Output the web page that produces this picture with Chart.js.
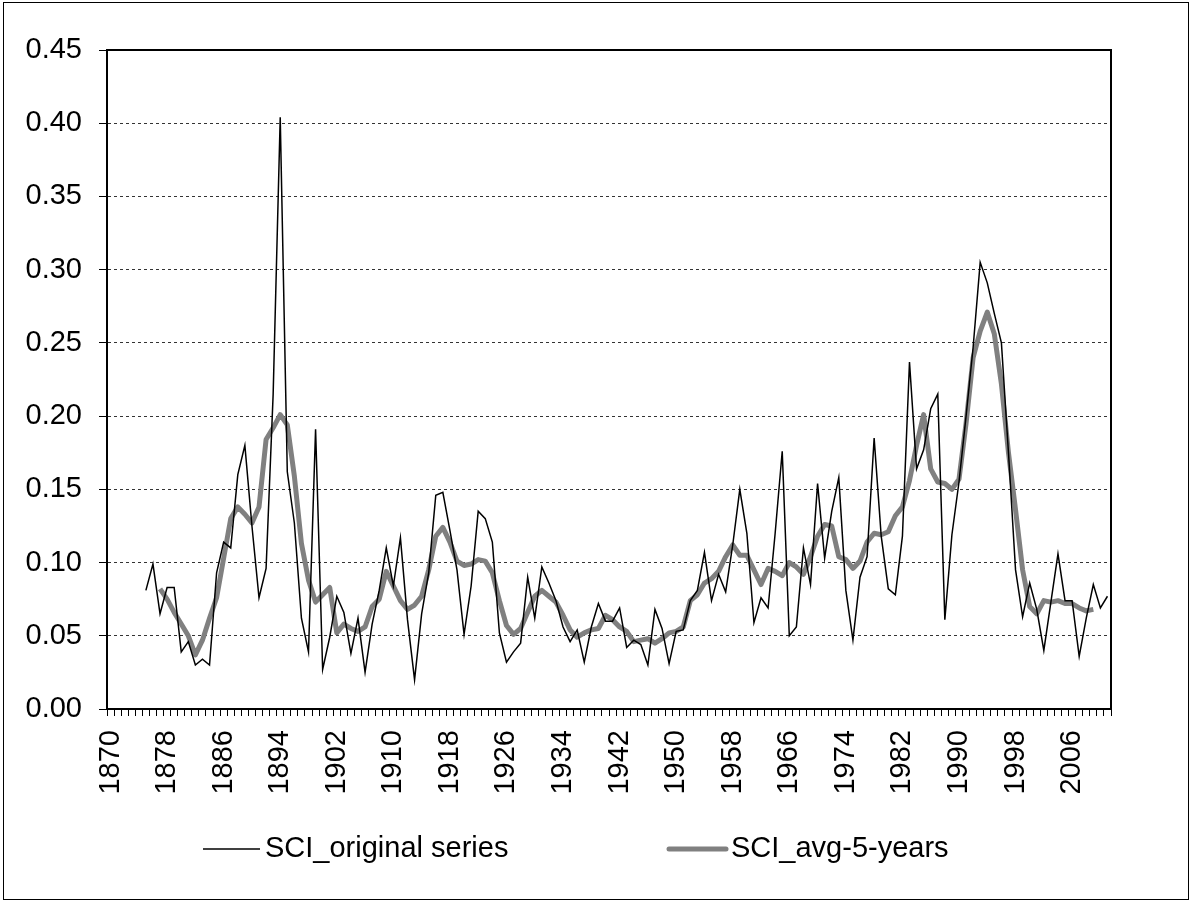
<!DOCTYPE html>
<html lang="en">
<head>
    <meta charset="UTF-8">
    <title>SCI</title>
    <style>
        body {margin: 0; background: #fff;}
        .chart-wrap {width: 1194px; height: 907px;}
    </style>
</head>
<body>
    <div class="chart-wrap">
        <canvas id="myChart"></canvas>
    </div>
    <script src="https://cdn.jsdelivr.net/npm/chart.js@4.4.0/dist/chart.umd.min.js"></script>
    <script>
        // categories: one per year
        const firstYear = 1870;
        const lastYear = 2011;
        const years = [];
        for (let y = firstYear; y <= lastYear; y++) years.push(y);

        // labelled years on the x axis
        const tickYears = [1870, 1878, 1886, 1894, 1902, 1910, 1918, 1926, 1934, 1942, 1950, 1958, 1966, 1974, 1982, 1990, 1998, 2006];

        // SCI original series, 1875 - 2011
        const origStart = 1875;
        const sciOriginal = [
            0.081, 0.099, 0.065, 0.083, 0.083, 0.039, 0.046, 0.030, 0.034, 0.030,
            0.093, 0.114, 0.110, 0.160, 0.180, 0.125, 0.076, 0.096, 0.215, 0.404,
            0.162, 0.127, 0.062, 0.039, 0.191, 0.027, 0.049, 0.077, 0.066, 0.038,
            0.062, 0.025, 0.058, 0.081, 0.110, 0.084, 0.117, 0.061, 0.020, 0.065,
            0.093, 0.146, 0.148, 0.122, 0.095, 0.051, 0.084, 0.135, 0.130, 0.114,
            0.052, 0.032, 0.039, 0.045, 0.090, 0.062, 0.097, 0.086, 0.074, 0.056,
            0.046, 0.054, 0.032, 0.056, 0.072, 0.060, 0.060, 0.069, 0.042, 0.047,
            0.044, 0.030, 0.068, 0.055, 0.031, 0.053, 0.054, 0.074, 0.081, 0.107,
            0.074, 0.092, 0.080, 0.112, 0.150, 0.120, 0.059, 0.076, 0.069, 0.120,
            0.176, 0.050, 0.056, 0.110, 0.085, 0.154, 0.103, 0.135, 0.158, 0.081,
            0.047, 0.090, 0.104, 0.185, 0.118, 0.082, 0.078, 0.118, 0.237, 0.164,
            0.177, 0.205, 0.215, 0.061, 0.119, 0.155, 0.200, 0.247, 0.305, 0.291,
            0.270, 0.250, 0.175, 0.095, 0.063, 0.086, 0.068, 0.040, 0.073, 0.106,
            0.074, 0.074, 0.036, 0.062, 0.085, 0.069, 0.077
        ];

        // SCI 5-year average, 1877 - 2009
        const avgStart = 1877;
        const sciAvg5 = [
            0.082, 0.075, 0.066, 0.058, 0.050, 0.037, 0.047, 0.062, 0.076, 0.103,
            0.130, 0.138, 0.133, 0.127, 0.138, 0.184, 0.192, 0.201, 0.194, 0.159,
            0.113, 0.088, 0.073, 0.078, 0.083, 0.052, 0.058, 0.055, 0.053, 0.056,
            0.070, 0.075, 0.094, 0.084, 0.074, 0.068, 0.071, 0.077, 0.095, 0.118,
            0.124, 0.114, 0.101, 0.098, 0.099, 0.102, 0.101, 0.093, 0.074, 0.057,
            0.051, 0.055, 0.066, 0.077, 0.081, 0.077, 0.073, 0.064, 0.054, 0.049,
            0.052, 0.054, 0.055, 0.064, 0.061, 0.056, 0.053, 0.046, 0.047, 0.048,
            0.045, 0.048, 0.052, 0.053, 0.056, 0.074, 0.078, 0.086, 0.089, 0.094,
            0.104, 0.112, 0.105, 0.105, 0.095, 0.085, 0.096, 0.094, 0.091, 0.100,
            0.097, 0.092, 0.104, 0.118, 0.126, 0.125, 0.104, 0.102, 0.096, 0.101,
            0.114, 0.120, 0.119, 0.121, 0.132, 0.138, 0.156, 0.180, 0.201, 0.164,
            0.155, 0.154, 0.150, 0.157, 0.195, 0.240, 0.258, 0.271, 0.256, 0.222,
            0.175, 0.136, 0.095, 0.070, 0.065, 0.074, 0.073, 0.074, 0.072, 0.072,
            0.069, 0.067, 0.068
        ];

        const seriesNames = ['SCI_original series', 'SCI_avg-5-years'];

        const toPoints = (start, values) => values.map((v, i) => ({x: start + i, y: v}));

        const FONT = "'Liberation Sans Narrow', 'Liberation Sans', Arial, sans-serif";
        const FONT_SIZE = 29;

        // plot frame, outer chart border and legend
        const framePlugin = {
            id: 'frame',
            afterDraw(chart) {
                const ctx = chart.ctx;
                const a = chart.chartArea;
                ctx.save();
                ctx.strokeStyle = '#000';
                ctx.lineWidth = 2;
                ctx.strokeRect(a.left, a.top, a.right - a.left, a.bottom - a.top);
                ctx.lineWidth = 1;
                ctx.strokeRect(3.5, 2.5, 1185, 897);

                // legend
                const legendX = [203, 669];
                const legendY = 849;
                ctx.font = FONT_SIZE + 'px ' + FONT;
                ctx.textBaseline = 'middle';
                ctx.fillStyle = '#000';
                chart.data.datasets.forEach((ds, i) => {
                    const x = legendX[i];
                    ctx.strokeStyle = ds.borderColor;
                    ctx.lineWidth = ds.borderWidth;
                    ctx.lineCap = i === 1 ? 'round' : 'butt';
                    ctx.beginPath();
                    ctx.moveTo(x, legendY);
                    ctx.lineTo(x + 57, legendY);
                    ctx.stroke();
                    ctx.fillText(ds.label, x + 62, legendY);
                });
                ctx.restore();
            }
        };

        const ctx = document.getElementById('myChart').getContext('2d');
        const config = {
            type: 'line',
            plugins: [framePlugin],
            data: {
                labels: years,
                datasets: [{
                    label: seriesNames[0],
                    data: toPoints(origStart, sciOriginal),
                    borderColor: '#000000',
                    borderWidth: 1.5,
                    pointRadius: 0,
                    tension: 0
                }, {
                    label: seriesNames[1],
                    data: toPoints(avgStart, sciAvg5),
                    borderColor: '#808080',
                    borderWidth: 5,
                    pointRadius: 0,
                    tension: 0,
                    borderJoinStyle: 'round'
                }]
            },
            options: {
                responsive: true,
                maintainAspectRatio: false,
                animation: false,
                layout: {padding: {top: 50, right: 83, left: 0, bottom: 0}},
                plugins: {
                    legend: {display: false},
                    tooltip: {enabled: false}
                },
                scales: {
                    x: {
                        type: 'category',
                        offset: true,
                        afterFit: (scale) => { scale.height = 198; },
                        grid: {
                            offset: true,
                            drawOnChartArea: false,
                            drawTicks: true,
                            tickLength: 7,
                            tickColor: '#000',
                            tickWidth: 1
                        },
                        border: {display: true, color: '#000', width: 2},
                        ticks: {
                            autoSkip: false,
                            maxRotation: 90,
                            minRotation: 90,
                            padding: 14,
                            color: '#000',
                            font: {family: FONT, size: FONT_SIZE},
                            callback: function(value, index) {
                                const y = years[index];
                                return tickYears.includes(y) ? String(y) : '';
                            }
                        }
                    },
                    y: {
                        min: 0,
                        max: 0.45,
                        afterFit: (scale) => { scale.width = 107; },
                        grid: {
                            color: '#333',
                            lineWidth: 1,
                            drawTicks: true,
                            tickLength: 8,
                            tickColor: '#000',
                            tickWidth: 1
                        },
                        border: {display: true, color: '#000', width: 2, dash: [3, 3]},
                        ticks: {
                            stepSize: 0.05,
                            padding: 17,
                            color: '#000',
                            font: {family: FONT, size: FONT_SIZE},
                            callback: (v) => v.toFixed(2)
                        }
                    }
                }
            }
        };

        const myChart = new Chart(ctx, config);
    </script>
</body>
</html>
